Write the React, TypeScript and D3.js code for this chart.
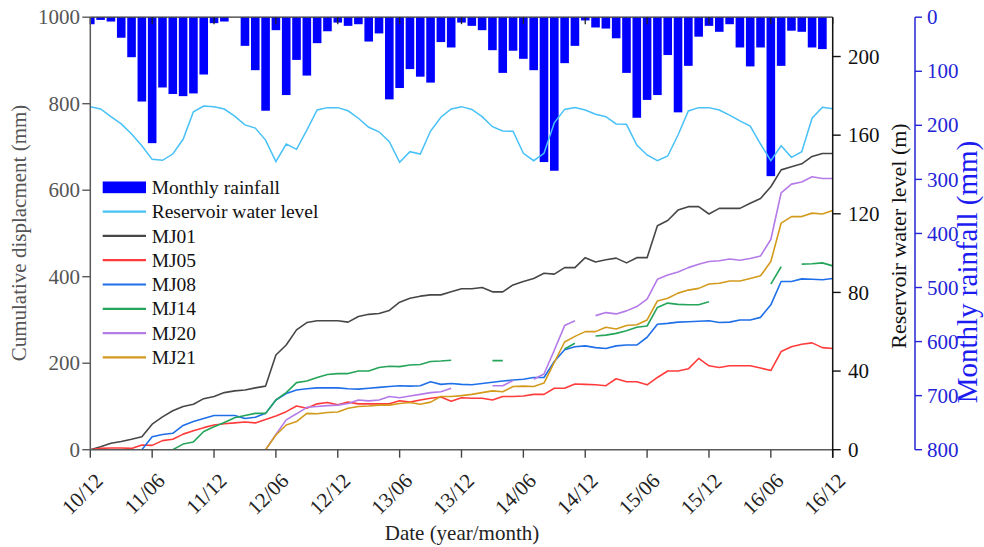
import React from "react";
import * as d3 from "d3";

// ---------- data (month index 0 = 2010/12 ... 72 = 2016/12) ----------
const xTickLabels = ["10/12", "11/06", "11/12", "12/06", "12/12", "13/06", "13/12", "14/06", "14/12", "15/06", "15/12", "16/06", "16/12"];
const leftTicks = [0, 200, 400, 600, 800, 1000];
const rightTicks = [0, 40, 80, 120, 160, 200];
const rainTicks = [0, 100, 200, 300, 400, 500, 600, 700, 800];

const rainfall = [13, 5, 8, 38, 74, 156, 233, 130, 142, 146, 141, 106, 11, 8, 0, 53, 98, 173, 24, 144, 79, 108, 48, 26, 10, 16, 13, 45, 30, 152, 131, 96, 110, 121, 46, 56, 10, 16, 24, 61, 103, 62, 77, 98, 268, 284, 85, 53, 6, 19, 21, 39, 103, 186, 153, 144, 70, 176, 90, 36, 16, 27, 13, 56, 91, 56, 294, 90, 25, 27, 56, 59, 0];

const reservoir = [174.5, 173.3, 169.4, 165.7, 160.6, 154.6, 147.7, 147.2, 150.4, 157.9, 171.9, 174.8, 174.5, 173.3, 169.7, 165.2, 163.6, 157.5, 146.5, 155.5, 152.8, 162.6, 172.8, 174, 174, 172.4, 168.6, 164, 161.7, 156.7, 146.2, 151.6, 150.4, 162.1, 169.1, 173.3, 174.5, 173.1, 169.4, 164.3, 162.1, 162, 150.8, 147, 150.8, 166.3, 173.1, 174, 172.8, 170.6, 169.4, 165.7, 165.5, 155, 149.9, 147, 149.4, 160.1, 172.3, 174, 174, 172.8, 170.2, 167.3, 164.6, 155.5, 147, 154.6, 148.7, 151.6, 168.6, 174.2, 173.4];

const N = null;
const MJ01 = [0, 7, 15, 19, 24, 30, 59, 76, 90, 100, 105, 118, 123, 132, 136, 138, 143, 147, 219, 242, 277, 294, 298, 298, 298, 295, 308, 313, 315, 322, 341, 350, 355, 358, 358, 365, 372, 372, 375, 365, 365, 381, 389, 396, 408, 406, 421, 421, 444, 434, 439, 443, 432, 444, 444, 518, 530, 554, 562, 562, 545, 558, 558, 558, 570, 581, 608, 647, 654, 661, 678, 685, 685];
const MJ05 = [0, 3, 4, 4, 3, 11, 10, 21, 24, 36, 44, 51, 57, 60, 62, 64, 62, 70, 78, 88, 101, 96, 106, 109, 104, 110, 106, 106, 106, 106, 113, 110, 115, 119, 122, 112, 120, 119, 119, 115, 123, 123, 124, 128, 128, 142, 142, 152, 151, 150, 148, 164, 157, 157, 150, 167, 182, 182, 187, 211, 194, 190, 194, 194, 194, 189, 183, 227, 238, 244, 247, 236, 234];
const MJ08 = [0, 0, 0, 0, 0, 0, 30, 35, 38, 56, 65, 72, 79, 79, 79, 72, 75, 84, 115, 130, 138, 141, 143, 143, 143, 141, 140, 142, 144, 146, 148, 147, 148, 157, 151, 153, 151, 150, 153, 156, 159, 161, 163, 167, 167, 204, 231, 238, 240, 236, 234, 240, 242, 242, 260, 290, 292, 295, 296, 297, 298, 294, 295, 300, 300, 306, 335, 389, 389, 395, 394, 393, 396];
const MJ14 = [N, N, N, N, N, N, N, N, 0, 13, 18, 42, 53, 63, 74, 79, 84, 84, 115, 132, 155, 159, 167, 174, 176, 176, 182, 182, 190, 193, 192, 196, 197, 204, 205, 207, N, N, N, 206, 206, N, N, N, N, N, 233, 246, N, 263, 265, 269, 275, 283, 286, 329, 339, 336, 335, 335, 342, N, N, N, N, N, 383, 423, N, 429, 430, 432, 425];
const MJ20 = [N, N, N, N, N, N, N, N, N, N, N, N, N, N, N, N, N, 0, 35, 69, 83, 98, 100, 102, 103, 107, 115, 113, 115, 123, 120, 124, 128, 132, 134, 142, N, N, N, 148, 148, 160, N, 163, 175, 230, 287, 298, N, 310, 317, 314, 321, 331, 348, 394, 404, 411, 421, 429, 435, 437, 441, 438, 442, 448, 486, 594, 614, 619, 631, 627, 627];
const MJ21 = [N, N, N, N, N, N, N, N, N, N, N, N, N, N, N, N, N, 0, 34, 57, 65, 84, 83, 86, 87, 96, 100, 101, 103, 103, 107, 109, 105, 110, 123, 123, 125, 128, 132, 136, 134, 146, 147, 146, 154, 202, 249, 262, 273, 273, 283, 279, 287, 289, 300, 344, 350, 362, 369, 373, 383, 385, 390, 390, 396, 402, 435, 524, 539, 539, 547, 545, 553];

const seriesNames = ["MJ01", "MJ05", "MJ08", "MJ14", "MJ20", "MJ21"];
const seriesValues = [MJ01, MJ05, MJ08, MJ14, MJ20, MJ21];
const seriesColors = ["#474747", "#ff3b3b", "#1f6fe8", "#25a55a", "#b47ae8", "#d39a1c"];

// ---------- layout ----------
const W = 984, H = 547;
const L = 90.3, R = 832.7, T = 17.2, B = 449.7;
const FONT = "'Liberation Serif', 'Times New Roman', serif";
const RAIN_COLOR = "#0000ff";
const RAIN_AXIS = "#2424d6";
const RES_COLOR = "#47c1f7";

export default function App() {
  const x = d3.scaleLinear().domain([0, 72]).range([L, R]);
  const yDisp = d3.scaleLinear().domain([0, 1000]).range([B, T]);
  const yRes = d3.scaleLinear().domain([0, 220]).range([B, T]);
  const yRain = d3.scaleLinear().domain([0, 800]).range([T, B]);
  const barW = 8.6;

  const resLine = d3.line<number>().x((_, i) => x(i)).y((d) => yRes(d));
  const dispLine = d3
    .line<number | null>()
    .defined((d) => d != null)
    .x((_, i) => x(i))
    .y((d) => yDisp(d as number));

  const legendRows = [
    { name: "Monthly rainfall", color: RAIN_COLOR, bar: true },
    { name: "Reservoir water level", color: RES_COLOR, bar: false },
    ...seriesNames.map((n, i) => ({ name: n, color: seriesColors[i], bar: false })),
  ];
  const legendY0 = 187.3, legendDy = 24.3;

  return (
    <svg
      width={W}
      height={H}
      style={{ position: "fixed", left: 0, top: 0, background: "#fff" }}
      fontFamily={FONT}
    >
      <defs>
        <clipPath id="plotClip">
          <rect x={L} y={T} width={R - L} height={B - T} />
        </clipPath>
      </defs>

      {/* rainfall bars */}
      <g clipPath="url(#plotClip)">
        {rainfall.map((v, i) =>
          v > 0 ? (
            <rect key={i} x={x(i) - barW / 2} y={yRain(0)} width={barW} height={yRain(v) - yRain(0)} fill={RAIN_COLOR} />
          ) : null
        )}
      </g>

      {/* reservoir line */}
      <path d={resLine(reservoir) || ""} fill="none" stroke={RES_COLOR} strokeWidth={1.5} />

      {/* displacement lines */}
      <g clipPath="url(#plotClip)">
        {seriesValues.map((s, k) => (
          <path key={k} d={dispLine(s) || ""} fill="none" stroke={seriesColors[k]} strokeWidth={1.6} strokeLinejoin="round" />
        ))}
      </g>

      {/* frame: top */}
      <line x1={L} x2={R} y1={T} y2={T} stroke="#333" strokeWidth={1.3} />
      {xTickLabels.map((_, i) => (
        <line key={"tt" + i} x1={x(i * 6)} x2={x(i * 6)} y1={T} y2={T + 7} stroke="#222" strokeWidth={1.3} />
      ))}

      {/* bottom axis */}
      <line x1={L} x2={R} y1={B} y2={B} stroke="#5a5a5a" strokeWidth={1.5} />
      {xTickLabels.map((lab, i) => (
        <g key={"bt" + i}>
          <line x1={x(i * 6)} x2={x(i * 6)} y1={B} y2={B + 8} stroke="#444" strokeWidth={1.4} />
          <text
            transform={`translate(${x(i * 6) + 14},482) rotate(-45)`}
            textAnchor="end"
            fontSize={21}
            fill="#222"
          >
            {lab}
          </text>
        </g>
      ))}
      <text x={462} y={540} textAnchor="middle" fontSize={21} fill="#222">
        Date (year/month)
      </text>

      {/* left axis */}
      <line x1={L} x2={L} y1={T} y2={B} stroke="#5a5a5a" strokeWidth={1.5} />
      {leftTicks.map((t) => (
        <g key={"lt" + t}>
          <line x1={L - 8} x2={L} y1={yDisp(t)} y2={yDisp(t)} stroke="#5a5a5a" strokeWidth={1.4} />
          <text x={80} y={yDisp(t)} dy="0.34em" textAnchor="end" fontSize={21} fill="#555">
            {t}
          </text>
        </g>
      ))}
      <text transform={`translate(26,233) rotate(-90)`} textAnchor="middle" fontSize={21} fill="#555">
        Cumulative displacment (mm)
      </text>

      {/* right axis: reservoir */}
      <line x1={R} x2={R} y1={T} y2={B + 8} stroke="#111" strokeWidth={1.5} />
      {rightTicks.map((t) => (
        <g key={"rt" + t}>
          <line x1={R} x2={R + 8} y1={yRes(t)} y2={yRes(t)} stroke="#111" strokeWidth={1.4} />
          <text x={848} y={yRes(t)} dy="0.34em" textAnchor="start" fontSize={21} fill="#111">
            {t}
          </text>
        </g>
      ))}
      <text transform={`translate(906,236) rotate(-90)`} textAnchor="middle" fontSize={22} fill="#111">
        Reservoir water level (m)
      </text>

      {/* rainfall axis */}
      <line x1={915} x2={915} y1={T} y2={B} stroke={RAIN_AXIS} strokeWidth={1.5} />
      {rainTicks.map((t) => (
        <g key={"rn" + t}>
          <line x1={915} x2={922} y1={yRain(t)} y2={yRain(t)} stroke={RAIN_AXIS} strokeWidth={1.4} />
          <text x={927} y={yRain(t)} dy="0.34em" textAnchor="start" fontSize={21} fill={RAIN_AXIS}>
            {t}
          </text>
        </g>
      ))}
      <text transform={`translate(977,272) rotate(-90)`} textAnchor="middle" fontSize={29} fill="#1c1cf0">
        Monthly rainfall (mm)
      </text>

      {/* legend */}
      {legendRows.map((r, i) => {
        const y = legendY0 + i * legendDy;
        return (
          <g key={"lg" + i}>
            {r.bar ? (
              <rect x={102.7} y={y - 5.8} width={43.3} height={11.7} fill={r.color} />
            ) : (
              <line x1={102.7} x2={146} y1={y} y2={y} stroke={r.color} strokeWidth={2.2} />
            )}
            <text x={151.7} y={y} dy="0.34em" fontSize={19.5} fill="#111">
              {r.name}
            </text>
          </g>
        );
      })}
    </svg>
  );
}
